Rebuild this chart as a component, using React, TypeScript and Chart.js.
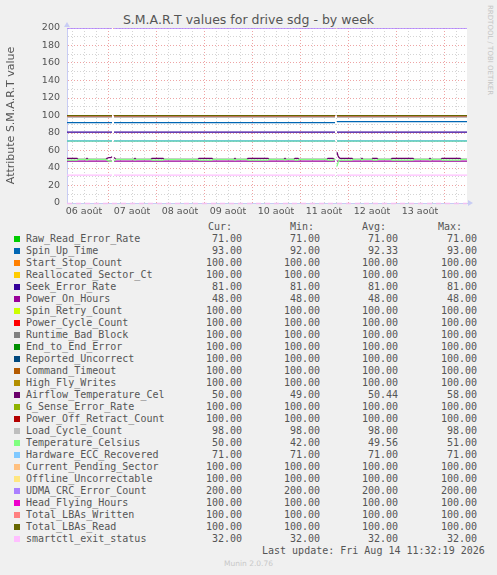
import { useEffect, useRef } from "react";
import { Chart, registerables, type Plugin } from "chart.js";

Chart.register(...registerables);

// x values are hours since the left edge of the graph (06 août 03:30)
const X_MAX = 200;
const FIRST_NOON = 8.5;
const FIRST_MIDNIGHT = 20.5;
const DAY_LABELS = ["06 août", "07 août", "08 août", "09 août", "10 août", "11 août", "12 août", "13 août"];

const Y_MAX = 200;

const SERIES_NAMES = [
  "Raw_Read_Error_Rate", "Spin_Up_Time", "Start_Stop_Count", "Reallocated_Sector_Ct",
  "Seek_Error_Rate", "Power_On_Hours", "Spin_Retry_Count", "Power_Cycle_Count",
  "Runtime_Bad_Block", "End_to_End_Error", "Reported_Uncorrect", "Command_Timeout",
  "High_Fly_Writes", "Airflow_Temperature_Cel", "G_Sense_Error_Rate", "Power_Off_Retract_Count",
  "Load_Cycle_Count", "Temperature_Celsius", "Hardware_ECC_Recovered", "Current_Pending_Sector",
  "Offline_Uncorrectable", "UDMA_CRC_Error_Count", "Head_Flying_Hours", "Total_LBAs_Written",
  "Total_LBAs_Read", "smartctl_exit_status",
];

const SERIES_COLORS = [
  "#00CC00", "#0066B3", "#FF8000", "#FFCC00", "#330099", "#990099", "#CCFF00", "#FF0000",
  "#808080", "#008F00", "#00487D", "#B35A00", "#B38F00", "#6B006B", "#8FB300", "#B30000",
  "#BEBEBE", "#80FF80", "#80C9FF", "#FFC080", "#FFE680", "#AA80FF", "#EE00CC", "#FF8080",
  "#666600", "#FFBFFF",
];

const CUR = [71, 93, 100, 100, 81, 48, 100, 100, 100, 100, 100, 100, 100, 50, 100, 100, 98, 50, 71, 100, 100, 200, 100, 100, 100, 32];
const MIN = [71, 92, 100, 100, 81, 48, 100, 100, 100, 100, 100, 100, 100, 49, 100, 100, 98, 42, 71, 100, 100, 200, 100, 100, 100, 32];
const AVG = [71, 92.33, 100, 100, 81, 48, 100, 100, 100, 100, 100, 100, 100, 50.44, 100, 100, 98, 49.56, 71, 100, 100, 200, 100, 100, 100, 32];
const MAX = [71, 93, 100, 100, 81, 48, 100, 100, 100, 100, 100, 100, 100, 58, 100, 100, 98, 51, 71, 100, 100, 200, 100, 100, 100, 32];

// flat series: one value for the whole week (null = series has its own points below)
const FLAT_VALUES = [71, null, 100, 100, 81, 48, 100, 100, 100, 100, 100, 100, 100, null, 100, 100, 98, null, 71, 100, 100, 200, 100, 100, 100, 32];

// stretches with data, and the missing samples between them
const SEGMENTS: [number, number][] = [[0, 22.5], [23.5, 134], [135, 200]];
const GAPS = [23, 134.5];

const SPIN_UP_POINTS: [number, number | null][] = [
  [0, 92], [22.5, 92], [23, null], [23.5, 92], [134, 92], [134.5, null], [135, 93], [200, 93],
];

const AIRFLOW_POINTS: [number, number | null][] = [
  [0, 51], [5, 51], [5.5, 50], [9.5, 50], [10, 51], [10.5, 50], [19.5, 50], [20, 51], [21, 52], [22, 52],
  [22.5, 53], [23, null], [23.5, 52], [24, 51], [24.5, 50], [33.5, 50], [34, 51], [34.5, 50], [42, 50],
  [42.5, 51], [48, 51], [48.5, 50], [65.5, 50], [66, 51], [72.5, 51], [73, 50], [83.5, 50], [84, 51],
  [84.5, 50], [90, 50], [90.5, 51], [100.5, 51], [101, 50], [108.5, 50], [109, 51], [109.5, 50],
  [113.5, 50], [114, 51], [115.5, 51], [116, 50], [130, 50], [130.5, 51], [133, 51], [133.5, 50],
  [134, 50], [134.5, null], [135, 58], [135.5, 54], [136, 52], [136.5, 51], [142.5, 51], [143, 50],
  [147, 50], [147.5, 51], [148, 50], [152.5, 50], [153, 51], [155, 51], [155.5, 50], [162, 50],
  [162.5, 51], [173, 51], [173.5, 50], [181, 50], [181.5, 51], [182, 50], [187, 50], [187.5, 51],
  [196.5, 51], [197, 50], [200, 50],
];

const TEMPERATURE_POINTS: [number, number | null][] = [
  [0, 49], [5, 49], [5.5, 50], [9.5, 50], [10, 49], [10.5, 50], [19.5, 50], [20, 49], [21, 48], [22, 48],
  [22.5, 47], [23, null], [23.5, 48], [24, 49], [24.5, 50], [33.5, 50], [34, 49], [34.5, 50], [42, 50],
  [42.5, 49], [48, 49], [48.5, 50], [65.5, 50], [66, 49], [72.5, 49], [73, 50], [83.5, 50], [84, 49],
  [84.5, 50], [90, 50], [90.5, 49], [100.5, 49], [101, 50], [108.5, 50], [109, 49], [109.5, 50],
  [113.5, 50], [114, 49], [115.5, 49], [116, 50], [130, 50], [130.5, 49], [133, 49], [133.5, 50],
  [134, 50], [134.5, null], [135, 42], [135.5, 46], [136, 48], [136.5, 49], [142.5, 49], [143, 50],
  [147, 50], [147.5, 49], [148, 50], [152.5, 50], [153, 49], [155, 49], [155.5, 50], [162, 50],
  [162.5, 49], [173, 49], [173.5, 50], [181, 50], [181.5, 49], [182, 50], [187, 50], [187.5, 49],
  [196.5, 49], [197, 50], [200, 50],
];

const OWN_POINTS: Record<string, [number, number | null][]> = {
  Spin_Up_Time: SPIN_UP_POINTS,
  Airflow_Temperature_Cel: AIRFLOW_POINTS,
  Temperature_Celsius: TEMPERATURE_POINTS,
};

const TEXT = "#555555";
const MINOR_GRID = "#d4d4d4";
const MAJOR_GRID = "#eea4a4";
const AXIS = "#c8ccf4";

function flatPoints(v: number) {
  const pts: { x: number; y: number | null }[] = [];
  SEGMENTS.forEach(([a, b], i) => {
    if (i > 0) pts.push({ x: GAPS[i - 1], y: null });
    pts.push({ x: a, y: v }, { x: b, y: v });
  });
  return pts;
}

const rrdDecor: Plugin<"line"> = {
  id: "rrdDecor",
  beforeDraw(chart) {
    const { ctx, chartArea: a } = chart;
    ctx.save();
    ctx.fillStyle = "#ffffff";
    ctx.fillRect(a.left, a.top, a.right - a.left, a.bottom - a.top);
    ctx.restore();
  },
  afterDraw(chart) {
    const { ctx, chartArea: a } = chart;
    ctx.save();
    ctx.strokeStyle = "#f2c0f2";
    ctx.setLineDash([5, 4]);
    ctx.lineWidth = 1.5;
    ctx.beginPath();
    ctx.moveTo(a.left, a.bottom + 0.5);
    ctx.lineTo(a.right, a.bottom + 0.5);
    ctx.stroke();
    ctx.fillStyle = AXIS;
    ctx.beginPath();
    ctx.moveTo(a.left - 3, a.top - 1);
    ctx.lineTo(a.left + 3, a.top - 1);
    ctx.lineTo(a.left, a.top - 6);
    ctx.fill();
    ctx.beginPath();
    ctx.moveTo(a.right + 1, a.bottom - 3);
    ctx.lineTo(a.right + 1, a.bottom + 3);
    ctx.lineTo(a.right + 6, a.bottom);
    ctx.fill();
    ctx.restore();
  },
};

function SmartChart() {
  const canvasRef = useRef<HTMLCanvasElement>(null);

  useEffect(() => {
    if (!canvasRef.current) return;
    const n = SERIES_NAMES.length;

    const datasets = SERIES_NAMES.map((name, i) => {
      const own = OWN_POINTS[name];
      const data = own ? own.map(([x, y]) => ({ x, y })) : flatPoints(FLAT_VALUES[i] as number);
      return {
        label: name,
        data,
        borderColor: SERIES_COLORS[i],
        backgroundColor: SERIES_COLORS[i],
        borderWidth: 1.25,
        pointRadius: 0,
        fill: false,
        spanGaps: false,
        order: n - i,
      };
    });

    const chart = new Chart(canvasRef.current, {
      type: "line",
      data: { datasets },
      options: {
        animation: false,
        responsive: false,
        events: [],
        layout: { padding: { left: 0, top: 28, right: 30, bottom: 0 } },
        plugins: { legend: { display: false }, tooltip: { enabled: false } },
        scales: {
          x: {
            type: "linear",
            min: 0,
            max: X_MAX,
            afterBuildTicks: (scale) => {
              const ticks = [];
              for (let h = FIRST_MIDNIGHT - 18; h <= X_MAX; h += 6) ticks.push({ value: h });
              scale.ticks = ticks;
            },
            afterFit: (scale) => {
              scale.height = 15;
            },
            ticks: {
              autoSkip: false,
              maxRotation: 0,
              padding: 3,
              color: TEXT,
              font: { family: "DejaVu Sans", size: 9.5 },
              callback: (value) => {
                const d = (Number(value) - FIRST_NOON) / 24;
                return Number.isInteger(d) && DAY_LABELS[d] ? DAY_LABELS[d] : "";
              },
            },
            grid: {
              drawTicks: false,
              color: (ctx) => ((ctx.tick.value - FIRST_MIDNIGHT) % 24 === 0 ? MAJOR_GRID : MINOR_GRID),
            },
            border: { color: AXIS, dash: [1, 2] },
          },
          y: {
            min: 0,
            max: Y_MAX,
            afterFit: (scale) => {
              scale.width = 67;
            },
            ticks: {
              stepSize: 10,
              autoSkip: false,
              padding: 7,
              color: TEXT,
              font: { family: "DejaVu Sans", size: 9.5 },
              callback: (value) => (Number(value) % 20 === 0 ? String(value) : ""),
            },
            grid: {
              drawTicks: false,
              color: (ctx) => (ctx.tick.value % 20 === 0 ? MAJOR_GRID : MINOR_GRID),
            },
            border: { color: AXIS, dash: [1, 2] },
            title: {
              display: true,
              text: "Attribute S.M.A.R.T value",
              color: TEXT,
              font: { family: "DejaVu Sans", size: 11 },
              padding: { top: 5, bottom: 0 },
            },
          },
        },
      },
      plugins: [rrdDecor],
    });

    return () => {
      chart.destroy();
    };
  }, []);

  return (
    <canvas
      ref={canvasRef}
      width={497}
      height={218}
      style={{ position: "absolute", left: 0, top: 0, width: 497, height: 218 }}
    />
  );
}

const fmt = (v: number) => v.toFixed(2);
const VALUE_RIGHTS = [242, 320, 398, 477];
const HEADER_LEFTS = [208, 290, 362, 438];
const HEADERS = ["Cur:", "Min:", "Avg:", "Max:"];
const LEGEND_TOP = 221;
const ROW_H = 12;

export default function App() {
  const cols = [CUR, MIN, AVG, MAX];
  return (
    <div
      style={{
        position: "absolute",
        left: 0,
        top: 0,
        width: 497,
        height: 575,
        background: "#f0f0f0",
        overflow: "hidden",
        color: TEXT,
      }}
    >
      <div
        style={{
          position: "absolute",
          top: 12,
          left: 0,
          width: 497,
          textAlign: "center",
          fontFamily: "DejaVu Sans",
          fontSize: 12.5,
          lineHeight: "15px",
        }}
      >
        S.M.A.R.T values for drive sdg - by week
      </div>
      <div
        style={{
          position: "absolute",
          left: 486,
          top: 5,
          writingMode: "vertical-rl",
          fontFamily: "DejaVu Sans",
          fontSize: 7,
          lineHeight: "8px",
          color: "#c4c4c4",
        }}
      >
        RRDTOOL / TOBI OETIKER
      </div>
      <SmartChart />
      <div style={{ fontFamily: "DejaVu Sans Mono", fontSize: 10, lineHeight: `${ROW_H}px` }}>
        {HEADERS.map((h, j) => (
          <span key={h} style={{ position: "absolute", top: LEGEND_TOP, left: HEADER_LEFTS[j] }}>
            {h}
          </span>
        ))}
        {SERIES_NAMES.map((name, i) => {
          const top = LEGEND_TOP + ROW_H * (i + 1);
          return (
            <div key={name}>
              <span
                style={{
                  position: "absolute",
                  left: 14,
                  top: top + 3,
                  width: 6,
                  height: 6,
                  background: SERIES_COLORS[i],
                }}
              />
              <span style={{ position: "absolute", left: 26, top }}>{name}</span>
              {cols.map((col, j) => (
                <span
                  key={j}
                  style={{ position: "absolute", top, right: 497 - VALUE_RIGHTS[j], textAlign: "right" }}
                >
                  {fmt(col[i])}
                </span>
              ))}
            </div>
          );
        })}
        <span style={{ position: "absolute", left: 262, top: LEGEND_TOP + ROW_H * (SERIES_NAMES.length + 1) }}>
          Last update: Fri Aug 14 11:32:19 2026
        </span>
      </div>
      <div
        style={{
          position: "absolute",
          top: 559,
          left: 0,
          width: 497,
          textAlign: "center",
          fontFamily: "DejaVu Sans",
          fontSize: 7.5,
          lineHeight: "10px",
          color: "#c8c8c8",
        }}
      >
        Munin 2.0.76
      </div>
    </div>
  );
}
